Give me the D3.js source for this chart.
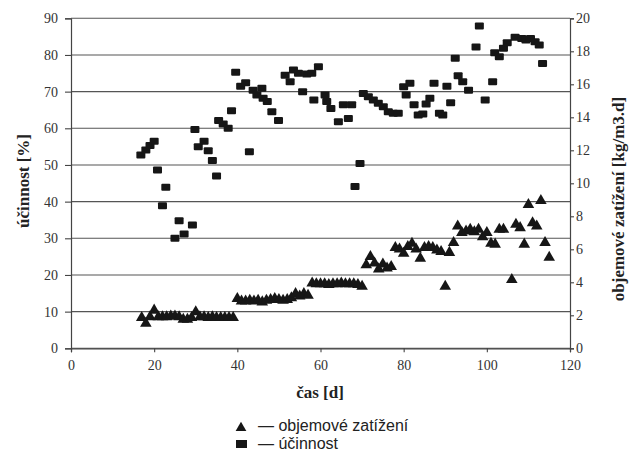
<!DOCTYPE html>
<html><head><meta charset="utf-8">
<script src="https://cdn.jsdelivr.net/npm/d3@7/dist/d3.min.js"></script>
<style>
html,body{margin:0;padding:0;background:#fff;}
svg{display:block;}
</style></head>
<body>
<svg id="c" width="630" height="452"></svg>
<script>
// objemové zatížení [kg/m3.d] (right axis) - triangles
const loadDays = [17,18,19,20,21,22,23,24,25,26,27,28,29,30,31,32,33,34,35,36,37,38,39,
  40,41,42,43,44,45,46,47,48,49,50,51,52,53,54,55,56,57,
  58,59,60,61,62,63,64,65,66,67,68,69,70,
  71,72,73,74,75,76,77,
  78,79,80,81,82,83,84,85,86,87,88,89,90,91,92,
  93,94,95,96,97,98,99,100,101,102,103,104,106,107,108,109,110,111,112,113,114,115];
const loadValues = [1.95,1.6,2.0,2.4,2.0,2.0,2.0,2.05,2.05,2.0,1.85,1.85,1.95,2.3,2.0,2.0,1.95,2.0,1.95,1.95,1.95,1.95,1.95,
  3.1,2.95,2.95,3.0,2.95,3.0,2.9,3.0,3.05,3.1,3.05,3.0,3.05,3.15,3.4,3.25,3.4,3.3,
  4.05,4.0,4.0,4.0,3.95,4.0,4.0,4.05,4.0,4.0,4.0,3.95,3.85,
  5.15,5.65,5.25,4.9,5.2,4.95,5.05,
  6.2,6.1,5.85,6.25,6.45,6.1,5.55,6.2,6.25,6.2,6.05,5.95,3.85,5.9,6.5,
  7.5,7.1,7.2,7.3,7.15,7.3,6.85,7.1,6.45,6.4,7.3,7.3,4.25,7.6,7.4,6.4,8.8,7.7,7.5,9.05,6.5,5.6];

// účinnost [%] (left axis) - squares
const effDays = [16.8,18.0,19.0,20.0,20.8,22.0,22.8,25.0,26.0,27.2,29.2,29.8,30.6,32.0,33.0,34.0,35.0,35.5,36.6,37.8,38.6,39.6,
  40.8,42.0,42.9,43.8,44.7,45.9,46.2,47.2,48.3,49.9,51.5,52.7,53.5,54.7,55.7,56.7,57.9,58.4,59.5,
  61.1,61.5,62.5,64.3,65.5,66.7,67.5,68.3,69.5,70.3,71.5,72.7,73.9,75.1,76.3,77.5,78.7,
  80.0,80.6,81.5,82.5,83.5,84.6,85.4,86.3,87.3,88.6,89.4,90.4,91.3,92.4,93.1,94.2,95.6,97.4,98.2,99.6,
  101.4,101.9,103.0,104.0,104.9,106.8,108.4,109.4,110.5,111.6,112.6,113.4];
const effValues = [52.7,54.1,55.3,56.5,48.6,38.9,43.9,30.0,34.8,31.2,33.6,59.7,55.0,56.5,53.9,51.2,47.0,62.1,61.2,60.0,64.8,75.3,
  71.5,72.4,53.6,70.4,69.1,70.9,68.2,67.3,64.5,62.1,74.5,72.7,75.9,75.0,70.0,74.8,75.0,67.7,76.8,
  69.1,67.3,65.4,61.8,66.4,62.7,66.4,44.1,50.4,69.5,68.6,67.7,66.8,65.9,64.5,64.1,64.1,
  71.3,69.1,72.3,66.4,63.6,63.9,66.6,68.2,72.3,64.1,63.6,71.5,67.0,79.1,74.3,72.7,70.4,82.2,87.9,67.7,
  72.7,80.6,79.5,81.8,83.3,84.8,84.5,84.1,84.5,83.6,82.7,77.7];

const xTicks = [0,20,40,60,80,100,120];
const leftTicks = [0,10,20,30,40,50,60,70,80,90];
const rightTicks = [0,2,4,6,8,10,12,14,16,18,20];
const xTitle = "čas [d]";
const leftTitle = "účinnost [%]";
const rightTitle = "objemové zatížení [kg/m3.d]";
const legendLabels = ["— objemové zatížení", "— účinnost"];

const svg = d3.select("#c");
const L = 71, R = 570, T = 18.3, B = 348.3;
const x = d3.scaleLinear().domain([0,120]).range([L,R]);
const yL = d3.scaleLinear().domain([0,90]).range([B,T]);
const yR = d3.scaleLinear().domain([0,20]).range([B,T]);
const serif = "'Liberation Serif','DejaVu Serif',serif";
const ink = "#161616";

// gridlines
svg.append("g").selectAll("line").data(leftTicks).join("line")
  .attr("x1",L).attr("x2",R).attr("y1",d=>yL(d)).attr("y2",d=>yL(d))
  .attr("stroke","#555").attr("stroke-width",1.1);

// axes
const gL = svg.append("g").attr("transform",`translate(${L},0)`)
  .call(d3.axisLeft(yL).tickValues(leftTicks).tickSize(6).tickPadding(7));
const gR = svg.append("g").attr("transform",`translate(${R},0)`)
  .call(d3.axisRight(yR).tickValues(rightTicks).tickSize(4).tickPadding(2));
const gB = svg.append("g").attr("transform",`translate(0,${B})`)
  .call(d3.axisBottom(x).tickValues(xTicks).tickSize(4).tickPadding(8));
[gL,gR,gB].forEach(g=>{
  g.selectAll("path").attr("stroke","#444").attr("stroke-width",1.2);
  g.selectAll("line").attr("stroke","#444").attr("stroke-width",1.1);
  g.selectAll("text").attr("font-family",serif).attr("font-size",14).attr("fill","#333");
});

// squares (účinnost)
const effData = effDays.map((d,i)=>({d, v:effValues[i]}));
svg.append("g").selectAll("rect").data(effData).join("rect")
  .attr("x",p=>x(p.d)-4.5).attr("y",p=>yL(p.v)-3.5)
  .attr("width",9).attr("height",7).attr("rx",1)
  .attr("fill",ink);

// triangles (objemové zatížení)
const loadData = loadDays.map((d,i)=>({d, v:loadValues[i]}));
const tri = d3.symbol(d3.symbolTriangle).size(58);
svg.append("g").selectAll("path").data(loadData).join("path")
  .attr("d",tri).attr("transform",p=>`translate(${x(p.d)},${yR(p.v)+1.6})`)
  .attr("fill",ink);

// titles
svg.append("text").attr("x",320).attr("y",398).attr("text-anchor","middle")
  .attr("font-family",serif).attr("font-weight","bold").attr("font-size",17).attr("fill","#222").text(xTitle);
svg.append("text").attr("transform","translate(29,181) rotate(-90)").attr("text-anchor","middle")
  .attr("font-family",serif).attr("font-weight","bold").attr("font-size",17).attr("fill","#222").text(leftTitle);
svg.append("text").attr("transform","translate(624,199) rotate(-90)").attr("text-anchor","middle")
  .attr("font-family",serif).attr("font-weight","bold").attr("font-size",17).attr("fill","#222").text(rightTitle);

// legend
const sans = "'Liberation Sans',Arial,sans-serif";
svg.append("path").attr("d",d3.symbol(d3.symbolTriangle).size(50)).attr("transform","translate(241,428)").attr("fill",ink);
svg.append("rect").attr("x",236).attr("y",440).attr("width",11).attr("height",8).attr("fill",ink);
svg.selectAll("text.leg").data(legendLabels).join("text").attr("class","leg")
  .attr("x",258).attr("y",(d,i)=>431+i*18)
  .attr("font-family",sans).attr("font-size",16).attr("fill","#222").text(d=>d);
</script>
</body></html>
